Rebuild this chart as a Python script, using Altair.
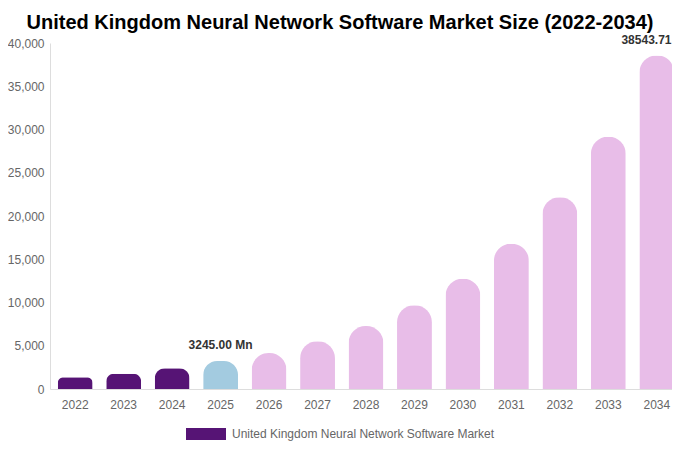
import altair as alt
import pandas as pd

years = ["2022", "2023", "2024", "2025", "2026", "2027", "2028", "2029", "2030", "2031", "2032", "2033", "2034"]
values = [1350, 1770, 2390, 3245.00, 4160, 5510, 7280, 9680, 12750, 16800, 22160, 29170, 38543.71]
series_name = "United Kingdom Neural Network Software Market"
phases = [series_name] * 3 + ["Base Year"] + ["Forecast"] * 9
labels = [""] * 3 + ["3245.00 Mn"] + [""] * 8 + ["38543.71 Mn"]
y_ticks = [0, 5000, 10000, 15000, 20000, 25000, 30000, 35000, 40000]

df = pd.DataFrame({"year": years, "value": values, "phase": phases, "label": labels})

color_scale = alt.Scale(
    domain=[series_name, "Base Year", "Forecast"],
    range=["#561475", "#a3cbe0", "#e8bde8"],
)

x = alt.X(
    "year:N",
    title=None,
    scale=alt.Scale(paddingInner=0.28, paddingOuter=0.16, range=[0, 632]),
    axis=alt.Axis(
        labelAngle=0, ticks=False, domainColor="#dddddd", labelColor="#666666",
        labelFontSize=12, labelPadding=10, labelFont="Liberation Sans",
    ),
)
y = alt.Y(
    "value:Q",
    title=None,
    scale=alt.Scale(domain=[0, 40000], nice=False),
    axis=alt.Axis(
        values=y_ticks, format=",.0f", grid=False, ticks=False, domainColor="#dddddd",
        labelColor="#666666", labelFontSize=12, labelPadding=6, labelFont="Liberation Sans",
    ),
)

bars = alt.Chart(df).mark_bar(cornerRadiusTopLeft=17, cornerRadiusTopRight=17).encode(
    x=x,
    y=y,
    color=alt.Color(
        "phase:N",
        scale=color_scale,
        legend=alt.Legend(
            values=[series_name], title=None, orient="none", legendX=136, legendY=371,
            symbolType="M-1,-0.3H1V0.3H-1Z", symbolSize=1600, symbolStrokeWidth=0,
            labelColor="#666666", labelFontSize=12, labelFont="Liberation Sans",
            labelOffset=6, symbolOpacity=1, labelLimit=400,
        ),
    ),
)

text = alt.Chart(df).mark_text(
    baseline="bottom", dy=-9, fontWeight="bold", fontSize=12, color="#333333",
    font="Liberation Sans",
).encode(x=x, y=y, text="label:N")

chart = (bars + text).properties(
    width=622,
    height=346,
    autosize=alt.AutoSizeParams(type="none"),
    padding={"left": 42, "top": 35, "right": 0, "bottom": 53},
    title=alt.TitleParams(
        "United Kingdom Neural Network Software Market Size (2022-2034)",
        fontSize=20, fontWeight="bold", color="#000000", font="Liberation Sans",
        anchor="middle", dx=-21, offset=1,
    ),
).configure_view(stroke=None)

chart.save("out.html", embed_options={"renderer": "svg", "actions": False})
